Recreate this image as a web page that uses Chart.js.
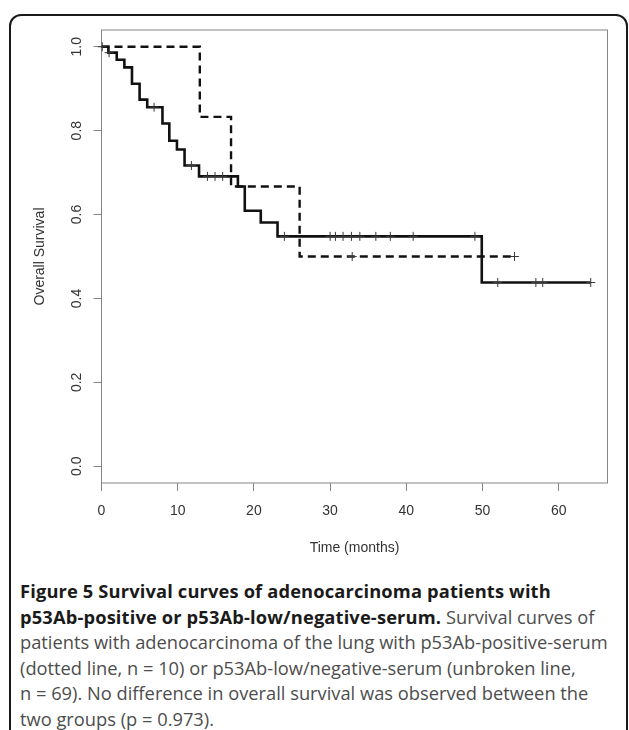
<!DOCTYPE html>
<html>
<head>
<meta charset="utf-8">
<script src="https://cdn.jsdelivr.net/npm/chart.js@4.4.1/dist/chart.umd.min.js"></script>
<style>
  html, body { margin: 0; padding: 0; background: #fff; }
  body { width: 629px; height: 730px; position: relative; overflow: hidden; }
  #frame {
    position: absolute; left: 9px; top: 14px; width: 619px; height: 780px;
    border: 2px solid #1a1a1a; border-radius: 12px; box-sizing: border-box;
  }
  #plot { position: absolute; left: 0; top: 0; }
  .cap {
    position: absolute; left: 20px; white-space: nowrap;
    font-family: "Open Sans", "Noto Sans", sans-serif; font-size: 18.3px;
    color: #4d4d4d; line-height: 26px;
  }
  .cap b { color: #1a1a1a; font-weight: 700; letter-spacing: 0.15px; }
</style>
</head>
<body>
<div id="frame"></div>
<canvas id="plot" width="629" height="570"></canvas>
<div class="cap" style="top:578px"><b>Figure 5 Survival curves of adenocarcinoma patients with</b></div>
<div class="cap" style="top:603.6px"><b>p53Ab-positive or p53Ab-low/negative-serum.</b> Survival curves of</div>
<div class="cap" style="top:629.2px">patients with adenocarcinoma of the lung with p53Ab-positive-serum</div>
<div class="cap" style="top:654.8px">(dotted line, n = 10) or p53Ab-low/negative-serum (unbroken line,</div>
<div class="cap" style="top:680.4px">n = 69). No difference in overall survival was observed between the</div>
<div class="cap" style="top:706px">two groups (p = 0.973).</div>
<script>
// p53Ab-low/negative (unbroken line, n = 69)
const timeNeg = [0, 0.9, 2, 3, 4, 5, 6, 8, 8.9, 9.9, 10.9, 12.8, 17.9, 18.8, 20.9, 23.1, 49.9, 64.2];
const survNeg = [1, 0.986, 0.969, 0.951, 0.912, 0.874, 0.856, 0.817, 0.776, 0.755, 0.717, 0.691, 0.667, 0.609, 0.581, 0.548, 0.438, 0.438];
const censNegTime = [0.1, 1.0, 6.9, 11.8, 13.9, 14.9, 15.9, 24.0, 30.0, 30.7, 31.7, 32.8, 33.9, 36.0, 37.9, 40.9, 49.0, 52.0, 57.0, 57.9, 64.2];
const censNegSurv = [1, 0.986, 0.856, 0.717, 0.691, 0.691, 0.691, 0.548, 0.548, 0.548, 0.548, 0.548, 0.548, 0.548, 0.548, 0.548, 0.548, 0.438, 0.438, 0.438, 0.438];

// p53Ab-positive (dotted line, n = 10)
const timePos = [0, 12.9, 17.0, 26.0, 54.2];
const survPos = [1, 0.833, 0.667, 0.5, 0.5];
const censPosTime = [32.9, 54.2];
const censPosSurv = [0.5, 0.5];

const xTicks = [0, 10, 20, 30, 40, 50, 60];
const yTicks = [0, 0.2, 0.4, 0.6, 0.8, 1.0];

function pts(xs, ys) {
  return xs.map(function (x, i) { return { x: x, y: ys[i] }; });
}

const axisFont = { family: '"Liberation Sans", Arial, sans-serif', size: 14 };

// plot box + rotated y tick labels like base R
const rStyle = {
  id: "rStyle",
  beforeDatasetsDraw(chart) {
    const a = chart.chartArea;
    const ctx = chart.ctx;
    ctx.save();
    ctx.strokeStyle = "#858585";
    ctx.lineWidth = 1;
    ctx.strokeRect(a.left, a.top, a.right - a.left, a.bottom - a.top);
    ctx.restore();
  },
  afterDraw(chart) {
    const ctx = chart.ctx;
    const y = chart.scales.y;
    ctx.save();
    ctx.fillStyle = "#333";
    ctx.font = '14px "Liberation Sans", Arial, sans-serif';
    ctx.textAlign = "center";
    ctx.textBaseline = "middle";
    y.ticks.forEach(function (t) {
      ctx.save();
      ctx.translate(77, y.getPixelForValue(t.value));
      ctx.rotate(-Math.PI / 2);
      ctx.fillText(t.value.toFixed(1), 0, 0);
      ctx.restore();
    });
    ctx.restore();
  },
};

const ctx = document.getElementById("plot").getContext("2d");
new Chart(ctx, {
  type: "line",
  data: {
    datasets: [
      {
        type: "scatter",
        data: pts(censNegTime, censNegSurv).concat(pts(censPosTime, censPosSurv)),
        pointStyle: "cross",
        pointRadius: 4.5,
        pointBorderWidth: 1,
        pointBorderColor: "#3a3a3a",
        showLine: false,
        clip: false,
      },
      {
        data: pts(timeNeg, survNeg),
        stepped: true,
        borderColor: "#111",
        borderWidth: 2.6,
        pointRadius: 0,
        fill: false,
      },
      {
        data: pts(timePos, survPos),
        stepped: true,
        borderColor: "#111",
        borderWidth: 2.4,
        borderDash: [8, 5],
        pointRadius: 0,
        fill: false,
      },
    ],
  },
  options: {
    responsive: false,
    animation: false,
    devicePixelRatio: 1,
    layout: { padding: { top: 30, right: 21.5, left: 0, bottom: 0 } },
    plugins: { legend: { display: false }, tooltip: { enabled: false } },
    scales: {
      x: {
        type: "linear",
        min: 0,
        max: 66.4,
        afterBuildTicks: function (s) { s.ticks = xTicks.map(function (v) { return { value: v }; }); },
        afterFit: function (s) { s.height = 87; },
        grid: { drawOnChartArea: false, tickLength: 8, color: "#858585" },
        border: { display: false },
        ticks: { font: axisFont, color: "#333", padding: 12, maxRotation: 0 },
        title: { display: true, text: "Time (months)", font: axisFont, color: "#333", padding: { top: 0, bottom: 13 } },
      },
      y: {
        min: -0.04,
        max: 1.04,
        afterBuildTicks: function (s) { s.ticks = yTicks.map(function (v) { return { value: v }; }); },
        afterFit: function (s) { s.width = 101.5; },
        grid: { drawOnChartArea: false, tickLength: 8, color: "#858585" },
        border: { display: false },
        ticks: { display: false },
        title: { display: true, text: "Overall Survival", font: axisFont, color: "#333", padding: { top: 32, bottom: 0 } },
      },
    },
  },
  plugins: [rStyle],
});
</script>
</body>
</html>
